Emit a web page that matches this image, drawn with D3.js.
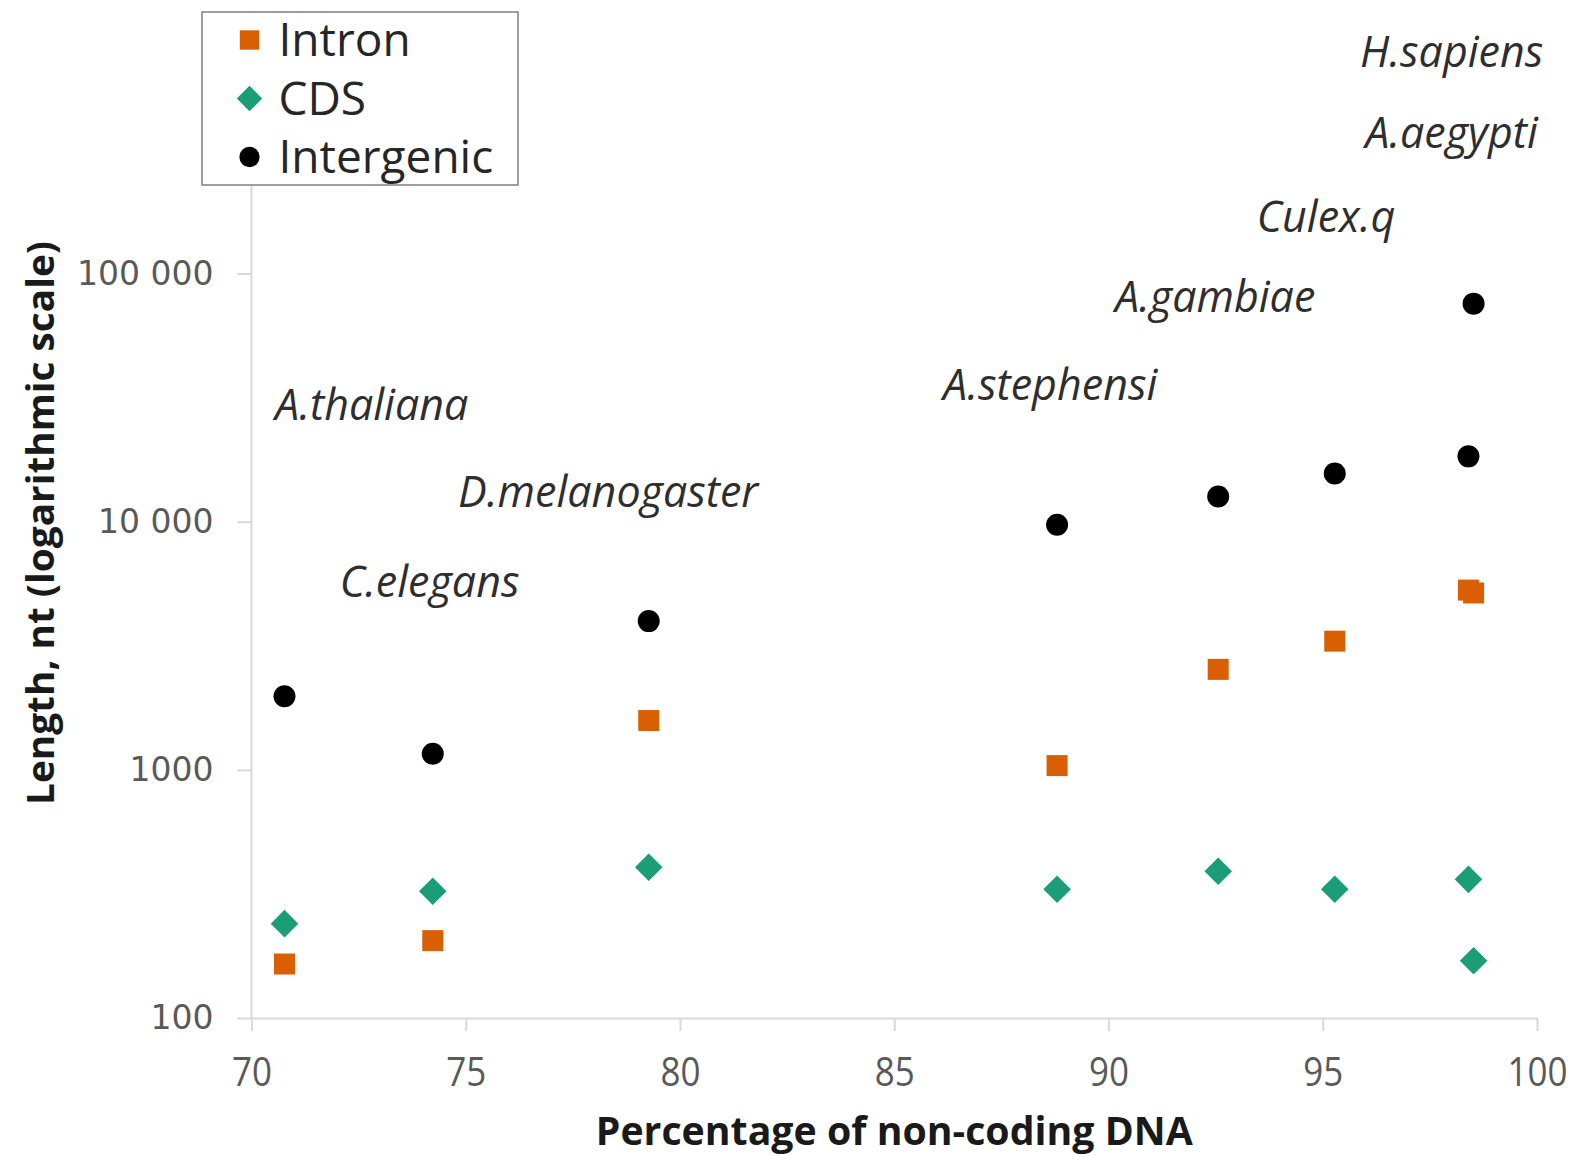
<!DOCTYPE html>
<html>
<head>
<meta charset="utf-8">
<script src="https://cdn.jsdelivr.net/npm/d3@7"></script>
<style>
  body { margin: 0; background: #fff; }
  svg { display: block; }
</style>
</head>
<body>
<script>
// values
const species = ['A.thaliana', 'C.elegans', 'D.melanogaster', 'A.stephensi', 'A.gambiae', 'Culex.q', 'A.aegypti', 'H.sapiens']
const noncoding = [70.77, 74.23, 79.27, 88.80, 92.56, 95.28, 98.40, 98.52]
const intron = [165, 205, 1580, 1040, 2540, 3300, 5300, 5160]
const cds = [240, 324, 405, 330, 390, 330, 362, 170]
const intergenic = [1980, 1160, 3975, 9720, 12620, 15630, 18330, 75600]

// where each species name sits, in data units (x %, y length)
const labelX = [70.55, 72.06, 74.82, 86.14, 90.15, 93.46, 95.99, 95.87]
const labelY = [25650, 4970, 11460, 30900, 69900, 146900, 320000, 680000]

const xTicks = [70, 75, 80, 85, 90, 95, 100]
const yTicks = [100, 1000, 10000, 100000]
const yTickLabels = ['100', '1000', '10 000', '100 000']

const seriesNames = ['Intron', 'CDS', 'Intergenic']
const seriesColors = ['#d95f02', '#1b9e77', '#000000']
const seriesShapes = [d3.symbolSquare, d3.symbolSquare, d3.symbolCircle]
const seriesRotate = [0, 45, 0]

const W = 1577, H = 1156
const left = 251.5, right = 1537, bottom = 1018, top100k = 273.5, plotTop = 12

const svg = d3.select('body').append('svg')
  .attr('width', W)
  .attr('height', H)

const x = d3.scaleLinear().domain([70, 100]).range([left, right])
const y = d3.scaleLog().domain([100, 100000]).range([bottom, top100k])

const axisCol = '#d9d9d9'

// x axis
const gx = svg.append('g')
  .attr('transform', `translate(0, ${bottom})`)
  .call(d3.axisBottom(x).tickValues(xTicks).tickSize(13).tickSizeOuter(0).tickFormat(d3.format('d')))
gx.select('.domain').attr('stroke', axisCol).attr('stroke-width', 2)
gx.selectAll('.tick line').attr('stroke', axisCol).attr('stroke-width', 2)
gx.selectAll('.tick text')
  .attr('y', 68)
  .attr('dy', 0)
  .attr('fill', '#595959')
  .style('font-family', '"Open Sans", sans-serif')
  .style('font-size', '40px')
  .attr('textLength', d => String(d).length * 20)
  .attr('lengthAdjust', 'spacingAndGlyphs')

// y axis
const gy = svg.append('g')
  .attr('transform', `translate(${left}, 0)`)
  .call(d3.axisLeft(y).tickValues(yTicks).tickSize(14).tickPadding(24).tickSizeOuter(0)
    .tickFormat((d, i) => yTickLabels[i]))
gy.select('.domain').attr('d', `M0,${bottom}V${plotTop}`).attr('stroke', axisCol).attr('stroke-width', 2)
gy.selectAll('.tick line').attr('stroke', axisCol).attr('stroke-width', 2)
gy.selectAll('.tick text')
  .attr('fill', '#595959')
  .style('font-family', '"DejaVu Sans", sans-serif')
  .style('font-size', '33px')

// axis titles
svg.append('text')
  .attr('x', (left + right) / 2)
  .attr('y', 1145)
  .attr('text-anchor', 'middle')
  .attr('fill', '#1a1a1a')
  .style('font-family', '"Open Sans", sans-serif')
  .style('font-weight', 'bold')
  .style('font-size', '40px')
  .attr('textLength', 597)
  .attr('lengthAdjust', 'spacingAndGlyphs')
  .text('Percentage of non-coding DNA')

svg.append('text')
  .attr('transform', 'translate(54, 523) rotate(-90)')
  .attr('text-anchor', 'middle')
  .attr('fill', '#1a1a1a')
  .style('font-family', '"Open Sans", sans-serif')
  .style('font-weight', 'bold')
  .style('font-size', '38px')
  .attr('textLength', 564)
  .attr('lengthAdjust', 'spacingAndGlyphs')
  .text('Length, nt (logarithmic scale)')

// species names
svg.append('g').selectAll('text')
  .data(species)
  .enter()
  .append('text')
  .attr('x', (d, i) => x(labelX[i]))
  .attr('y', (d, i) => y(labelY[i]))
  .attr('fill', '#2e2e2e')
  .style('font-family', '"Open Sans", sans-serif')
  .style('font-style', 'italic')
  .style('font-size', '43px')
  .text(d => d)

// points
const sizes = [21 * 21, 19.5 * 19.5, Math.PI * 11 * 11]
const seriesValues = [intron, cds, intergenic]

seriesValues.forEach((vals, s) => {
  svg.append('g').selectAll('path')
    .data(vals)
    .enter()
    .append('path')
    .attr('d', d3.symbol().type(seriesShapes[s]).size(sizes[s]))
    .attr('transform', (d, i) => `translate(${x(noncoding[i])}, ${y(d)}) rotate(${seriesRotate[s]})`)
    .attr('fill', seriesColors[s])
})

// legend
const lg = svg.append('g')
lg.append('rect')
  .attr('x', 202)
  .attr('y', 12)
  .attr('width', 316)
  .attr('height', 173)
  .attr('fill', '#fff')
  .attr('stroke', '#7f7f7f')
  .attr('stroke-width', 1.5)

const rows = lg.selectAll('g.row')
  .data(seriesNames)
  .enter()
  .append('g')
  .attr('class', 'row')
  .attr('transform', (d, i) => `translate(249.5, ${40 + i * 58.5})`)

rows.append('path')
  .attr('d', (d, i) => d3.symbol().type(seriesShapes[i]).size(sizes[i] * 0.85)())
  .attr('transform', (d, i) => `rotate(${seriesRotate[i]})`)
  .attr('fill', (d, i) => seriesColors[i])

rows.append('text')
  .attr('x', 29)
  .attr('y', 16)
  .attr('fill', '#262626')
  .style('font-family', '"Open Sans", sans-serif')
  .style('font-size', '46px')
  .text(d => d)
</script>
</body>
</html>
